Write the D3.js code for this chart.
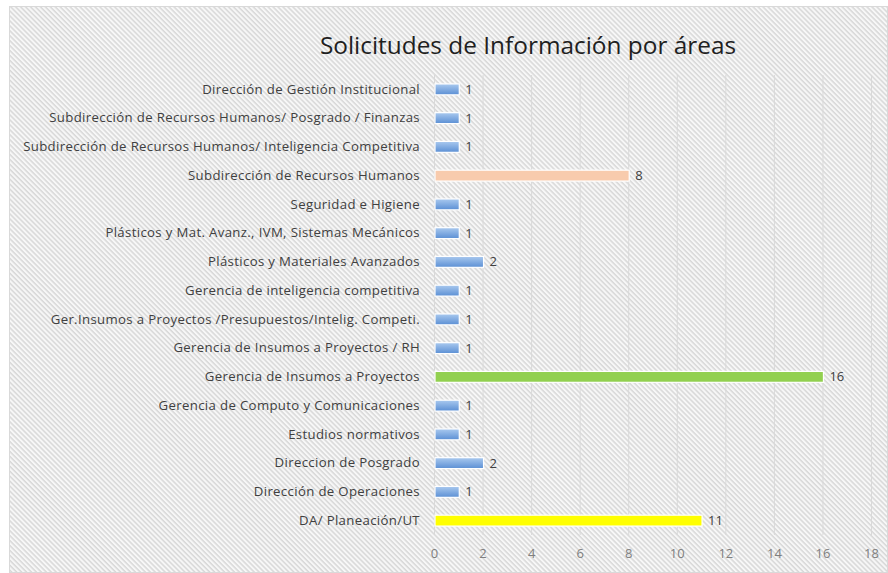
<!DOCTYPE html>
<html>
<head>
<meta charset="utf-8">
<script src="https://cdn.jsdelivr.net/npm/d3@7"></script>
<style>
  body { margin: 0; background: #fff; }
  svg { display: block; }
  text { font-family: "Open Sans", Lato, sans-serif; }
</style>
</head>
<body>
<div id="chart"></div>
<script>
// Solicitudes de Información por áreas - horizontal bar chart

const areas = [
    'Dirección de Gestión Institucional',
    'Subdirección de Recursos Humanos/ Posgrado / Finanzas',
    'Subdirección de Recursos Humanos/ Inteligencia Competitiva',
    'Subdirección de Recursos Humanos',
    'Seguridad e Higiene',
    'Plásticos y Mat. Avanz., IVM, Sistemas Mecánicos',
    'Plásticos y Materiales Avanzados',
    'Gerencia de inteligencia competitiva',
    'Ger.Insumos a Proyectos /Presupuestos/Intelig. Competi.',
    'Gerencia de Insumos a Proyectos / RH',
    'Gerencia de Insumos a Proyectos',
    'Gerencia de Computo y Comunicaciones',
    'Estudios normativos',
    'Direccion de Posgrado',
    'Dirección de Operaciones',
    'DA/ Planeación/UT'
];
const solicitudes = [1, 1, 1, 8, 1, 1, 2, 1, 1, 1, 16, 1, 1, 2, 1, 11];
// highlighted bars, everything else uses the blue gradient
const highlight = {
    'Subdirección de Recursos Humanos': '#f8cbad',
    'Gerencia de Insumos a Proyectos': '#92d050',
    'DA/ Planeación/UT': '#ffff00'
};
const xTicks = [0, 2, 4, 6, 8, 10, 12, 14, 16, 18];

const width = 888, height = 573;
const margin = { top: 75, right: 17, bottom: 38, left: 434 };
const innerWidth = width - margin.left - margin.right;
const innerHeight = height - margin.top - margin.bottom;

const svg = d3.select('#chart')
    .append('svg')
    .attr('width', width)
    .attr('height', height);

const defs = svg.append('defs');

// diagonal hatch background
const hatch = defs.append('pattern')
    .attr('id', 'hatch')
    .attr('patternUnits', 'userSpaceOnUse')
    .attr('width', 3.5)
    .attr('height', 3.5)
    .attr('patternTransform', 'rotate(45)');
hatch.append('rect').attr('width', 3.5).attr('height', 3.5).attr('fill', '#f7f7f7');
hatch.append('rect').attr('width', 3.5).attr('height', 1.5).attr('fill', '#d8d8d8');

const grad = defs.append('linearGradient')
    .attr('id', 'blueGrad')
    .attr('x1', 0).attr('y1', 0).attr('x2', 0).attr('y2', 1);
grad.append('stop').attr('offset', '0%').attr('stop-color', '#a9c9ef');
grad.append('stop').attr('offset', '100%').attr('stop-color', '#5b8fd4');

svg.append('rect')
    .attr('x', 9.5).attr('y', 6.5)
    .attr('width', width - 10).attr('height', height - 7)
    .attr('fill', 'url(#hatch)')
    .attr('stroke', '#d9d9d9');

const g = svg.append('g')
    .attr('transform', `translate(${margin.left},${margin.top})`);

const x = d3.scaleLinear()
    .domain([0, 18])
    .range([0, innerWidth]);

const y = d3.scaleBand()
    .domain(areas)
    .range([0, innerHeight])
    .paddingInner(0.62)
    .paddingOuter(0.31);

// Gridlines
g.append('g')
    .attr('class', 'grid')
    .selectAll('line')
    .data(xTicks)
    .enter()
    .append('line')
    .attr('x1', d => x(d) + 0.5)
    .attr('x2', d => x(d) + 0.5)
    .attr('y1', 0)
    .attr('y2', innerHeight)
    .attr('stroke', '#d9d9d9')
    .attr('stroke-width', 1);

// X-axis tick labels
const xAxis = g.append('g')
    .attr('transform', `translate(0,${innerHeight})`)
    .call(d3.axisBottom(x).tickValues(xTicks).tickSize(0).tickPadding(14));
xAxis.select('.domain').remove();
xAxis.selectAll('text')
    .attr('fill', '#7f7f7f')
    .style('font-size', '13px')
    .style('font-family', '"Open Sans", sans-serif');

// Y-axis category labels
const yAxis = g.append('g')
    .call(d3.axisLeft(y).tickSize(0).tickPadding(14));
yAxis.select('.domain').remove();
yAxis.selectAll('text')
    .attr('fill', '#404040')
    .style('font-size', '13.2px')
    .style('letter-spacing', '0.35px')
    .style('font-family', '"Open Sans", sans-serif');

const data = areas.map((a, i) => ({ area: a, value: solicitudes[i] }));

// Bars
g.selectAll('.bar')
    .data(data)
    .enter()
    .append('rect')
    .attr('class', 'bar')
    .attr('x', x(0) + 1)
    .attr('y', d => y(d.area))
    .attr('width', d => x(d.value) - x(0))
    .attr('height', y.bandwidth())
    .attr('fill', d => highlight[d.area] || 'url(#blueGrad)')
    .attr('stroke', '#ffffff')
    .attr('stroke-width', 1.2);

// Value labels
g.selectAll('.value')
    .data(data)
    .enter()
    .append('text')
    .attr('class', 'value')
    .attr('x', d => x(d.value) + 7)
    .attr('y', d => y(d.area) + y.bandwidth() / 2)
    .attr('dy', '0.35em')
    .attr('fill', '#404040')
    .style('font-size', '13px')
    .text(d => d.value);

// Title
svg.append('text')
    .attr('x', 528)
    .attr('y', 54)
    .attr('text-anchor', 'middle')
    .attr('fill', '#1f1f1f')
    .style('font-size', '24.4px')
    .text('Solicitudes de Información por áreas');
</script>
</body>
</html>
